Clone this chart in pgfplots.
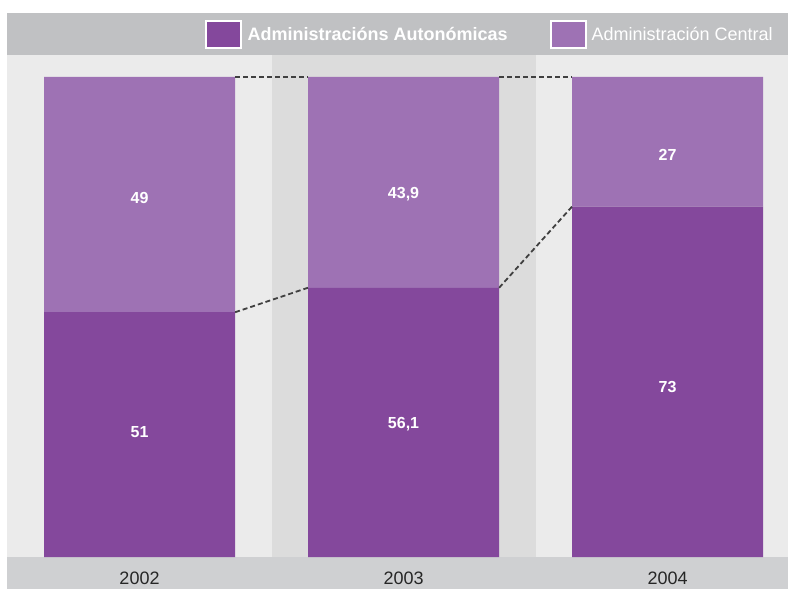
\documentclass[border=0pt]{standalone}
\usepackage{pgfplots}
\pgfplotsset{compat=1.18}
\usepackage{fontspec}
\setmainfont{Liberation Sans}
\definecolor{darkp}{HTML}{84489C}
\definecolor{lightp}{HTML}{9E72B4}
\definecolor{bgl}{HTML}{EBEBEB}
\definecolor{bgd}{HTML}{DCDCDC}
\definecolor{topband}{HTML}{C0C1C3}
\definecolor{botband}{HTML}{CFD0D2}
\pgfplotsset{common/.style={scale only axis, width=780.4pt, height=502pt,
  xmin=-0.5, xmax=2.456, ymin=0, ymax=104.58, clip=false,
  axis line style={draw=none}, tick style={draw=none}, ytick=\empty}}
\begin{document}
\begin{tikzpicture}
\begin{axis}[common, xtick=\empty]
\fill[white] (axis cs:-0.5284,-6.667) rectangle (axis cs:2.456,116.04);
\fill[topband] (axis cs:-0.5,104.58) rectangle (axis cs:2.456,113.33);
\fill[bgl] (axis cs:-0.5,0) rectangle (axis cs:2.456,104.58);
\fill[bgd] (axis cs:0.5,0) rectangle (axis cs:1.5,104.58);
\fill[botband] (axis cs:-0.5,-6.667) rectangle (axis cs:2.456,0);
\end{axis}
\begin{axis}[common, ybar stacked, bar width=0.7235,
  xtick={0,1,2}, xticklabels={2002,2003,2004},
  xticklabel style={font=\fontsize{18}{18}\selectfont, text=black!85, anchor=center, yshift=-21pt},
  legend columns=2,
  legend style={draw=none, fill=none, at={(0.2525,1.0408)}, anchor=west, inner sep=0pt, outer sep=0pt,
    font=\fontsize{18}{18}\selectfont, text=white,
    /tikz/every even column/.append style={column sep=40pt}},
  ]
\addplot[fill=darkp, draw=none,
  legend image code/.code={\fill[white] (0pt,-14.5pt) rectangle (37pt,14.5pt);
    \fill[darkp] (2pt,-12.5pt) rectangle (35pt,12.5pt); \path (41pt,0pt);}]
  coordinates {(0,51) (1,56.1) (2,73)};
\addlegendentry{\bfseries Administracións Autonómicas}
\addplot[fill=lightp, draw=none,
  legend image code/.code={\fill[white] (0pt,-14.5pt) rectangle (37pt,14.5pt);
    \fill[lightp] (2pt,-12.5pt) rectangle (35pt,12.5pt); \path (40pt,0pt);}]
  coordinates {(0,49) (1,43.9) (2,27)};
\addlegendentry{Administración Central}
\end{axis}
\begin{axis}[common, xtick=\empty]
\addplot[black!75, line width=1.8pt, dash pattern=on 5pt off 3pt] coordinates {(0.362,100) (0.638,100)};
\addplot[black!75, line width=1.8pt, dash pattern=on 5pt off 3pt] coordinates {(1.362,100) (1.638,100)};
\addplot[black!75, line width=1.8pt, dash pattern=on 5pt off 3pt] coordinates {(0.362,51) (0.638,56.1)};
\addplot[black!75, line width=1.8pt, dash pattern=on 5pt off 3pt] coordinates {(1.362,56.1) (1.638,73)};
\addplot[only marks, mark=none, nodes near coords, point meta=explicit symbolic,
  nodes near coords align=center,
  every node near coord/.append style={anchor=center, text=white, font=\fontsize{16}{16}\selectfont\bfseries}]
  coordinates {(0,26.04)[51] (0,74.9)[49] (1,27.7)[56,1] (1,75.6)[43,9] (2,35.4)[73] (2,83.75)[27]};
\end{axis}
\end{tikzpicture}
\end{document}
